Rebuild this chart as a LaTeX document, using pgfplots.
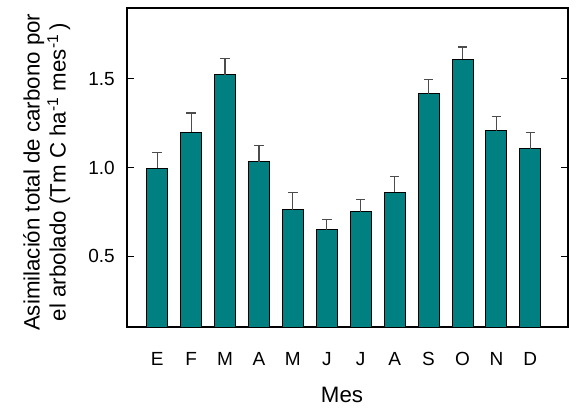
\documentclass[border=0pt]{standalone}
\usepackage{fontspec}
\setmainfont{Liberation Sans}
\usepackage{pgfplots}
\pgfplotsset{compat=1.18}
\definecolor{barteal}{HTML}{008080}
\pgfplotstableread{
x y e
0 0.995 0.090
1 1.200 0.107
2 1.524 0.090
3 1.032 0.091
4 0.761 0.100
5 0.648 0.058
6 0.751 0.070
7 0.861 0.090
8 1.416 0.079
9 1.612 0.068
10 1.207 0.081
11 1.107 0.091
}\datatable
\begin{document}
\begin{tikzpicture}
\begin{axis}[
  at={(0pt,0pt)}, anchor=south west,
  scale only axis, width=441pt, height=319pt,
  xmin=-0.89, xmax=12.11, ymin=0.1, ymax=1.9,
  xtick={0,...,11}, xticklabels={E,F,M,A,M,J,J,A,S,O,N,D},
  major x tick style={draw=none},
  ytick={0.5,1.0,1.5},
  ytick pos=both, yticklabel pos=left,
  tick align=inside, major tick length=7pt,
  tick style={line width=1pt, black},
  /pgf/number format/assume math mode=true,
  yticklabel style={/pgf/number format/fixed, /pgf/number format/precision=1, /pgf/number format/fixed zerofill,
    anchor=east, inner sep=0pt, xshift=-12pt},
  xticklabel style={anchor=base, inner sep=0pt, yshift=-31.3pt},
  tick label style={font=\fontsize{19}{22}\selectfont},
  axis line style={line width=1.2pt},
  xlabel={Mes},
  xlabel style={font=\fontsize{22.3}{26}\selectfont, at={(axis description cs:0.4875,-0.2382)}, anchor=base, inner sep=0pt},
  ylabel={Asimilación total de carbono por\\el arbolado (Tm C ha\textsuperscript{-1} mes\textsuperscript{-1}\,)},
  ylabel style={font=\fontsize{22.3}{26}\selectfont, align=center, at={(axis description cs:-0.128,0.485)}, anchor=south, inner sep=0pt},
  ybar, bar width=21pt, bar shift=0pt,
]
\addplot[fill=barteal, draw=black, line width=1pt,
  error bars/.cd, y dir=plus, y explicit,
  error bar style={line width=1.2pt, black!70},
  error mark options={rotate=90, mark size=4.7pt, line width=1.2pt, black!70}]
  table[x=x, y=y, y error=e] {\datatable};
\end{axis}
\path[use as bounding box] (-127pt,-81pt) rectangle (450pt,327pt);
\end{tikzpicture}
\end{document}
